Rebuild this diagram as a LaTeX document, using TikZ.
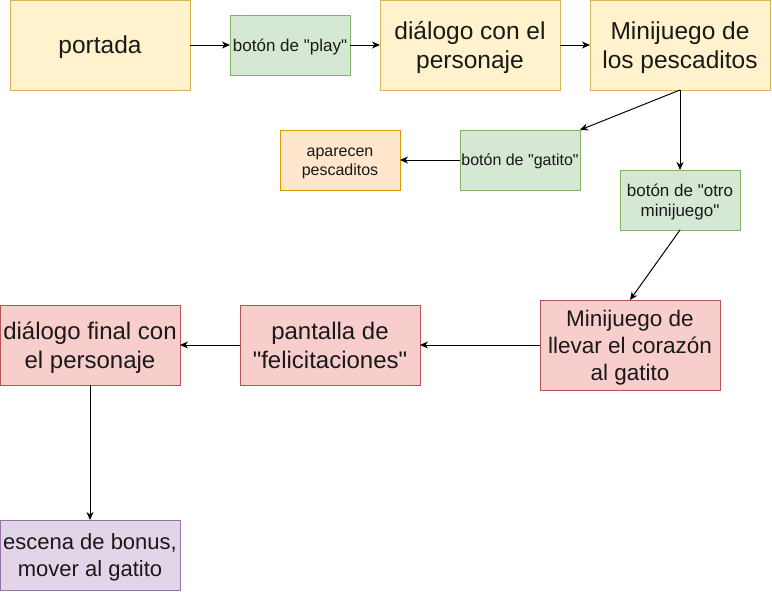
\documentclass[tikz,border=0pt]{standalone}
\usepackage{fontspec}
\setmainfont{Liberation Sans}
\usetikzlibrary{arrows.meta}
\definecolor{yelF}{HTML}{FFF2CC}\definecolor{yelD}{HTML}{D6B656}
\definecolor{grnF}{HTML}{D5E8D4}\definecolor{grnD}{HTML}{82B366}
\definecolor{orgF}{HTML}{FFE6CC}\definecolor{orgD}{HTML}{D79B00}
\definecolor{redF}{HTML}{F8CECC}\definecolor{redD}{HTML}{B85450}
\definecolor{purF}{HTML}{E1D5E7}\definecolor{purD}{HTML}{9673A6}
\newcommand\ls{\rule[-0.235em]{0pt}{1.2em}}
\newcommand\qq{\textquotedbl}
\tikzset{
  box/.style={draw, rectangle, line width=1pt, inner sep=0pt, outer sep=0pt, align=center, text=black!90},
  yelbox/.style={box, fill=yelF, draw=yelD, minimum width=180pt, minimum height=90pt, font=\fontsize{24.5pt}{29.4pt}\selectfont},
  grnbox/.style={box, fill=grnF, draw=grnD, minimum width=120pt, minimum height=60pt},
  orgbox/.style={box, fill=orgF, draw=orgD, minimum width=120pt, minimum height=60pt, font=\fontsize{16pt}{19.2pt}\selectfont},
  redbox/.style={box, fill=redF, draw=redD, minimum width=180pt, minimum height=80pt, font=\fontsize{24pt}{28.8pt}\selectfont},
  purbox/.style={box, fill=purF, draw=purD, minimum width=180pt, minimum height=70pt, font=\fontsize{22pt}{26.4pt}\selectfont},
  conn/.style={line width=1pt, -{Stealth[length=8pt,width=7pt,inset=2.5pt]}}
}
\begin{document}
\begin{tikzpicture}[x=1pt,y=-1pt]
\useasboundingbox (0,0) rectangle (772,592);
\node[yelbox] (portada) at (100,45) {\ls portada};
\node[grnbox, font=\fontsize{17pt}{20.4pt}\selectfont] (play) at (290,45) {\ls botón de \qq play\qq};
\node[yelbox] (dialogo) at (470,45) {\ls diálogo con el\\\ls personaje};
\node[yelbox] (pesc) at (680,45) {\ls Minijuego de\\\ls los pescaditos};
\node[orgbox] (aparecen) at (340,160) {\ls aparecen\\\ls pescaditos};
\node[grnbox, font=\fontsize{16pt}{19.2pt}\selectfont] (gatito) at (520,160) {\ls botón de \qq gatito\qq};
\node[grnbox, font=\fontsize{17pt}{20.4pt}\selectfont] (otro) at (680,200) {\ls botón de \qq otro\\\ls minijuego\qq};
\node[redbox, minimum height=90pt, font=\fontsize{22.5pt}{27pt}\selectfont] (corazon) at (630,345) {\ls Minijuego de\\\ls llevar el corazón\\\ls al gatito};
\node[redbox] (felic) at (330,345) {\ls pantalla de\\\ls \qq felicitaciones\qq};
\node[redbox] (final) at (90,345) {\ls diálogo final con\\\ls el personaje};
\node[purbox] (bonus) at (90,555) {\ls escena de bonus,\\\ls mover al gatito};
\draw[conn] (portada) -- (play);
\draw[conn] (play) -- (dialogo);
\draw[conn] (dialogo) -- (pesc);
\draw[conn] (pesc.south) -- (gatito.north east);
\draw[conn] (pesc.south) -- (otro.north);
\draw[conn] (gatito) -- (aparecen);
\draw[conn] (otro.south) -- (corazon.north);
\draw[conn] (corazon) -- (felic);
\draw[conn] (felic) -- (final);
\draw[conn] (final) -- (bonus);
\end{tikzpicture}
\end{document}
